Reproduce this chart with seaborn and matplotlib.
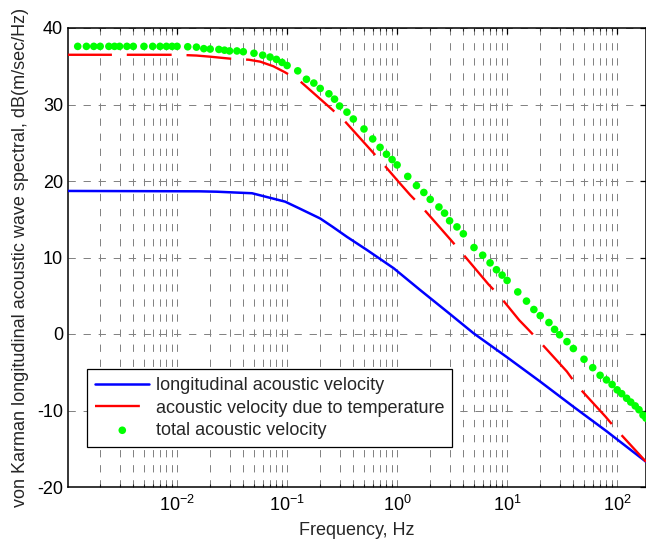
import numpy as np
import pandas as pd
import matplotlib
matplotlib.use("Agg")
import matplotlib.pyplot as plt
import matplotlib.ticker as mticker
import seaborn as sns

# --- values ---
freq_blue = [0.001, 0.016, 0.023, 0.033, 0.048, 0.096, 0.13, 0.2, 0.26, 0.35, 0.53, 0.93,
             1.62, 2.46, 3.03, 4.95, 9.9, 19.9, 40, 80, 183]
db_blue = [18.7, 18.65, 18.6, 18.5, 18.4, 17.3, 16.4, 15.1, 14.0, 12.7, 11.0, 8.6,
           5.75, 3.65, 2.6, 0.1, -3.0, -6.2, -9.5, -12.7, -16.7]

freq_red = [0.001, 0.01, 0.015, 0.02, 0.03, 0.045, 0.057, 0.075, 0.096, 0.13, 0.254,
            0.326, 0.589, 0.75, 1.06, 1.31, 1.68, 3.03, 3.73, 6.76, 8.5, 12.9, 15.3,
            19.2, 34.9, 43, 78.4, 98.6, 183]
db_red = [36.5, 36.5, 36.4, 36.25, 36.0, 35.85, 35.6, 35.0, 34.2, 33.1, 29.4,
          28.0, 23.9, 22.2, 19.7, 18.2, 16.6, 12.4, 10.9, 6.5, 5.0, 1.8, 0.7,
          -0.8, -4.9, -6.7, -10.8, -12.5, -16.7]

freq_green = [0.00125, 0.0015, 0.00175, 0.002, 0.0024, 0.0027, 0.003, 0.0035, 0.004, 0.005,
              0.006, 0.007, 0.008, 0.009, 0.01,
              0.0125, 0.015, 0.0175, 0.02, 0.024, 0.027, 0.03, 0.035, 0.04, 0.05,
              0.06, 0.07, 0.08, 0.09, 0.1,
              0.125, 0.15, 0.175, 0.2, 0.24, 0.27, 0.3, 0.35, 0.4, 0.5,
              0.6, 0.7, 0.8, 0.9, 1.0,
              1.25, 1.5, 1.75, 2, 2.4, 2.7, 3, 3.5, 4, 5, 6, 7, 8, 9, 10,
              12.5, 15, 17.5, 20, 24, 27, 30, 35, 40, 50, 60, 70, 80, 90, 100,
              110, 122, 133, 146, 158, 172, 183]
db_green = [37.6, 37.6, 37.6, 37.6, 37.6, 37.6, 37.6, 37.6, 37.6, 37.6,
            37.6, 37.6, 37.6, 37.6, 37.6,
            37.55, 37.5, 37.3, 37.25, 37.2, 37.1, 37.0, 37.0, 36.9, 36.7,
            36.45, 36.2, 35.9, 35.5, 35.1,
            34.4, 33.3, 32.8, 32.1, 31.4, 30.7, 29.8, 29.0, 28.1, 26.8,
            25.5, 24.4, 23.5, 22.8, 22.1,
            20.6, 19.4, 18.5, 17.6, 16.6, 15.8, 14.8, 14.0, 13.1, 11.3, 10.3, 9.3, 8.4, 7.7, 7.0,
            5.5, 4.3, 3.2, 2.4, 1.5, 0.6, -0.1, -1.0, -1.9, -3.3, -4.4, -5.4, -6.0, -6.6, -7.3,
            -7.8, -8.4, -8.9, -9.4, -9.9, -10.6, -11.0]

labels = ["longitudinal acoustic velocity",
          "acoustic velocity due to temperature",
          "total acoustic velocity"]
y_ticks = [-20, -10, 0, 10, 20, 30, 40]

# --- style ---
sns.set_style("white")
plt.rcParams['font.family'] = ['Liberation Sans', 'DejaVu Sans']
plt.rcParams['font.size'] = 13
plt.rcParams['axes.unicode_minus'] = False
plt.rcParams['mathtext.fontset'] = 'custom'
plt.rcParams['mathtext.rm'] = 'Liberation Sans'

fig = plt.figure(figsize=(6.46, 5.39), dpi=100)
ax = fig.add_axes([68 / 646, 52 / 539, 578 / 646, 459 / 539])

df_blue = pd.DataFrame({'f': freq_blue, 'db': db_blue})
df_red = pd.DataFrame({'f': freq_red, 'db': db_red})
df_green = pd.DataFrame({'f': freq_green, 'db': db_green})

sns.lineplot(data=df_blue, x='f', y='db', color='#0000ff', lw=1.8, ax=ax,
             label=labels[0], zorder=3)
sns.lineplot(data=df_red, x='f', y='db', color='#ff0000', lw=1.7, ax=ax,
             label=labels[1], linestyle=(0, (19, 6.3)), zorder=3)
sns.scatterplot(data=df_green, x='f', y='db', color='#00ff00', s=30,
                edgecolor='none', ax=ax, label=labels[2], zorder=4)

ax.set_xscale('log')
ax.set_xlim(1.02e-3, 183)
ax.set_ylim(-20, 40)
ax.set_yticks(y_ticks)
ax.xaxis.set_major_locator(mticker.LogLocator(base=10, numticks=12))
ax.xaxis.set_minor_locator(mticker.LogLocator(base=10, subs=np.arange(2, 10), numticks=12))
ax.xaxis.set_minor_formatter(mticker.NullFormatter())

# matlab-like grid
grid_kw = dict(color='#808080', lw=0.7, linestyle=(0, (7.5, 8)))
ax.grid(True, which='both', axis='x', **grid_kw)
ax.grid(True, which='major', axis='y', **grid_kw)
ax.set_axisbelow(True)

for sp in ax.spines.values():
    sp.set_color('black')
    sp.set_linewidth(1.1)

ax.tick_params(axis='both', which='major', direction='in', length=4.5, width=0.9,
               top=True, right=True, colors='black', labelsize=13)
ax.tick_params(axis='x', which='major', pad=5.5)
ax.tick_params(axis='y', which='major', pad=3.5)
ax.tick_params(axis='x', which='minor', direction='in', length=2.5, width=0.8,
               top=True, bottom=True)

ax.set_xlabel("Frequency, Hz", fontsize=13)
ax.set_ylabel("von Karman longitudinal acoustic wave spectral, dB(m/sec/Hz)", fontsize=13)
ax.xaxis.set_label_coords(0.5, -0.077)
ax.yaxis.set_label_coords(-0.068, 0.5)

leg = ax.legend(loc='upper left', bbox_to_anchor=(0.033, 0.257), fontsize=13,
                frameon=True, fancybox=False, framealpha=1, edgecolor='black',
                borderpad=0.45, labelspacing=0.3, handlelength=3.0,
                handletextpad=0.35, borderaxespad=0)
leg.get_frame().set_linewidth(0.9)

fig.savefig("out.png", dpi=100)
